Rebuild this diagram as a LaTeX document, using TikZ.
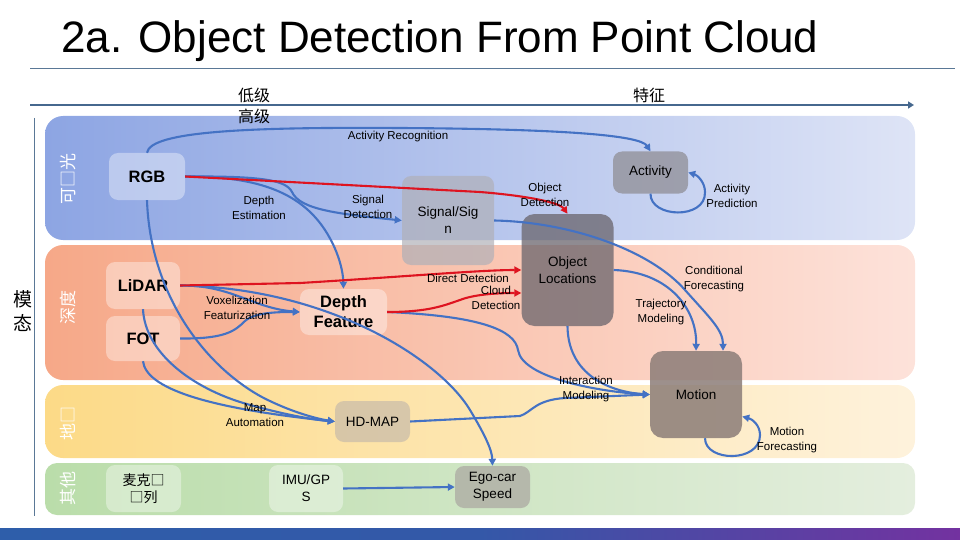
\documentclass[tikz,border=0pt]{standalone}
\usepackage{fontspec}
\setmainfont{Liberation Sans}
\newfontfamily\cjk{Noto Sans CJK SC}
\usetikzlibrary{arrows.meta}
\definecolor{lineblue}{RGB}{68,114,196}
\definecolor{linered}{RGB}{222,20,32}
\definecolor{rulecol}{RGB}{90,120,150}
\definecolor{axiscol}{RGB}{70,104,142}
\definecolor{blueL}{RGB}{141,165,227}
\definecolor{blueR}{RGB}{222,228,246}
\definecolor{oraL}{RGB}{246,168,136}
\definecolor{oraR}{RGB}{253,226,218}
\definecolor{yelL}{RGB}{252,218,135}
\definecolor{yelR}{RGB}{254,242,220}
\definecolor{grnL}{RGB}{186,221,170}
\definecolor{grnR}{RGB}{228,238,222}
\definecolor{barL}{RGB}{46,94,170}
\definecolor{barM}{RGB}{52,88,168}
\definecolor{barR}{RGB}{115,50,160}
\definecolor{sigcol}{RGB}{176,176,184}
\definecolor{actcol}{RGB}{150,150,160}
\definecolor{objcol}{RGB}{105,100,108}
\definecolor{motcol}{RGB}{140,125,120}
\definecolor{hdcol}{RGB}{190,180,170}
\definecolor{egocol}{RGB}{170,165,160}
\tikzset{
  bl/.style={draw=lineblue, line width=2.1pt, -{Triangle[length=7pt,width=7pt]}},
  rd/.style={draw=linered, line width=2.1pt, -{Triangle[length=7pt,width=7pt]}},
  box/.style={rounded corners=9pt, inner sep=0pt, align=center, font=\fontsize{13.5}{17}\selectfont},
  bbox/.style={box, font=\bfseries\fontsize{16.5}{20}\selectfont},
  pale/.style={fill=white, fill opacity=0.38, text opacity=1},
  lbl/.style={align=center, inner sep=0pt, font=\fontsize{11.5}{14.5}\selectfont},
  side/.style={rotate=90, text=white, font=\cjk\fontsize{17}{20}\selectfont, inner sep=0pt},
  band/.style={rounded corners=18pt},
  cjklbl/.style={font=\cjk\fontsize{16}{20}\selectfont, inner sep=0pt},
}
\begin{document}
\begin{tikzpicture}[x=1pt,y=-1pt]
\useasboundingbox (0,0) rectangle (960,540);
% title
\node[anchor=base west, inner sep=0pt, font=\fontsize{44}{50}\selectfont] (title) at (61,53) {2a. Object Detection From Point Cloud};
\coordinate (r1) at (30,69);
\coordinate (r2) at (955,69);
\draw[rulecol, line width=1pt] (r1) -- (r2);
% axis
\coordinate (axS) at (30,105);
\coordinate (axE) at (914,105);
\draw[axiscol, line width=2.2pt, -{Triangle[length=6pt,width=7pt]}] (axS) -- (axE);
% vertical line
\coordinate (v1) at (34,118);
\coordinate (v2) at (34,516);
\draw[rulecol, line width=1pt] (v1) -- (v2);
% bands
\shade[band, left color=blueL, right color=blueR] (45,116) rectangle (915,240);
\shade[band, left color=oraL, right color=oraR] (45,245) rectangle (915,380);
\shade[band, left color=yelL, right color=yelR] (45,385) rectangle (915,458);
\shade[band, left color=grnL, right color=grnR, rounded corners=12pt] (45,463) rectangle (915,515);
% bottom bar
\shade[left color=barL, right color=barR, middle color=barM] (0,528) rectangle (960,540);
% axis labels
\node[cjklbl] (low) at (254,95) {低级};
\node[cjklbl] (high) at (254,116) {高级};
\node[cjklbl] (feat) at (649,95) {特征};
% side labels
\node[side] (s1) at (68,179) {可□光};
\node[side] (s2) at (68,307) {深度};
\node[side] (s3) at (68,423) {地□};
\node[side] (s4) at (68,488) {其他};
\node[font=\cjk\fontsize{19}{24}\selectfont, align=center, inner sep=0pt] (modal) at (23,311) {模\\态};
% nodes
\node[bbox, pale, minimum width=76pt, minimum height=47pt] (rgb) at (147,176.5) {RGB};
\node[bbox, pale, minimum width=74pt, minimum height=47pt] (lidar) at (143,285.5) {LiDAR};
\node[bbox, pale, minimum width=74pt, minimum height=45pt] (fot) at (143,338.5) {FOT};
\node[bbox, pale, minimum width=87pt, minimum height=46pt] (depth) at (343.5,312) {Depth\\Feature};
\node[box, fill=sigcol, fill opacity=0.7, text opacity=1, minimum width=92pt, minimum height=89pt] (sig) at (448,220.5) {Signal/Sig\\n};
\node[box, fill=actcol, fill opacity=0.85, text opacity=1, minimum width=75pt, minimum height=42pt] (act) at (650.5,172.5) {Activity};
\node[box, rounded corners=13pt, fill=objcol, fill opacity=0.75, text opacity=1, minimum width=92pt, minimum height=112pt] (obj) at (567.5,270) {Object\\Locations};
\node[box, rounded corners=13pt, fill=motcol, fill opacity=0.85, text opacity=1, minimum width=92pt, minimum height=87pt] (motion) at (696,394.5) {Motion};
\node[box, fill=hdcol, fill opacity=0.6, text opacity=1, minimum width=75pt, minimum height=41pt] (hdmap) at (372.5,421.5) {HD-MAP};
\node[box, pale, font=\cjk\fontsize{14}{17}\selectfont, minimum width=75pt, minimum height=47pt] (mic) at (143.5,488.5) {麦克□\\□列};
\node[box, pale, minimum width=74pt, minimum height=47pt] (imu) at (306,488.5) {IMU/GP\\S};
\node[box, fill=egocol, fill opacity=0.7, text opacity=1, minimum width=75pt, minimum height=42pt] (ego) at (492.5,487) {Ego-car\\Speed};
% connectors
\draw[bl] (rgb.north) .. controls (150,131) and (250,127) .. (400,128) .. controls (560,129) and (640,135) .. (act.north);
\draw[bl] (act.south) .. controls (650,218) and (706,220) .. (705,192) .. controls (705,182) and (697,175) .. (act.east);
\draw[bl] (rgb.east) .. controls (262,176) and (286,180) .. (292,192) .. controls (300,210) and (340,214) .. (sig.west);
\draw[bl] (rgb.east) .. controls (262,176) and (302,195) .. (325,230) .. controls (338,250) and (343,270) .. (depth.north);
\draw[bl] (rgb.south) .. controls (150,290) and (200,362) .. (260,396) .. controls (290,412) and (318,419) .. (hdmap.west);
\draw[bl] (lidar.south) .. controls (145,352) and (190,386) .. (240,402) .. controls (280,414) and (315,420) .. (hdmap.west);
\draw[bl] (fot.south) .. controls (146,388) and (205,408) .. (hdmap.west);
\draw[bl] (lidar.east) .. controls (232,285) and (252,308) .. (depth.west);
\draw[bl] (fot.east) .. controls (225,339) and (235,331) .. (245,321) .. controls (255,312) and (280,312) .. (depth.west);
\draw[bl] (lidar.east) .. controls (330,288) and (440,360) .. (470,410) .. controls (485,435) and (492,450) .. (ego.north);
\draw[bl] (depth.east) .. controls (480,316) and (515,330) .. (518,350) .. controls (522,378) and (600,392) .. (motion.west);
\draw[bl] (obj.south) .. controls (568,375) and (610,392) .. (motion.west);
\draw[bl] (hdmap.east) -- (520,416) .. controls (532,412) and (535,400) .. (565,398) -- (motion.west);
\draw[bl] (obj.east) .. controls (670,272) and (697,310) .. (motion.north);
\draw[bl] (sig.east) .. controls (570,222) and (650,250) .. (685,290) .. controls (710,318) and (723,330) .. ([xshift=27pt]motion.north);
\draw[bl] ([xshift=9pt]motion.south) .. controls (705,462) and (760,463) .. (760,435) .. controls (760,425) and (752,419) .. ([yshift=-22pt]motion.east);
\draw[bl] (imu.east) -- (ego.west);
\draw[rd] (rgb.east) -- (480,192) .. controls (530,196) and (560,203) .. (obj.north);
\draw[rd] (lidar.east) -- (300,283) .. controls (400,277) and (480,270) .. (obj.west);
\draw[rd] (depth.east) .. controls (430,312) and (445,305) .. (460,300) .. controls (475,294) and (500,293) .. ([yshift=-23pt]obj.west);
% labels
\node[lbl] (l1) at (398,137) {Activity Recognition};
\node[lbl] (l2) at (259,208) {Depth\\Estimation};
\node[lbl] (l3) at (368,207) {Signal\\Detection};
\node[lbl] (l4) at (545,195) {Object\\Detection};
\node[lbl] (l5) at (732,196) {Activity\\Prediction};
\node[lbl] (l6) at (468,278) {Direct Detection};
\node[lbl] (l7) at (496,298) {Cloud\\Detection};
\node[lbl] (l8) at (237,308) {Voxelization\\Featurization};
\node[lbl] (l9) at (714,279) {Conditional\\Forecasting};
\node[lbl] (l10) at (661,312) {Trajectory\\Modeling};
\node[lbl] (l11) at (586,389) {Interaction\\Modeling};
\node[lbl] (l12) at (255,415) {Map\\Automation};
\node[lbl] (l13) at (787,440) {Motion\\Forecasting};
\end{tikzpicture}
\end{document}
